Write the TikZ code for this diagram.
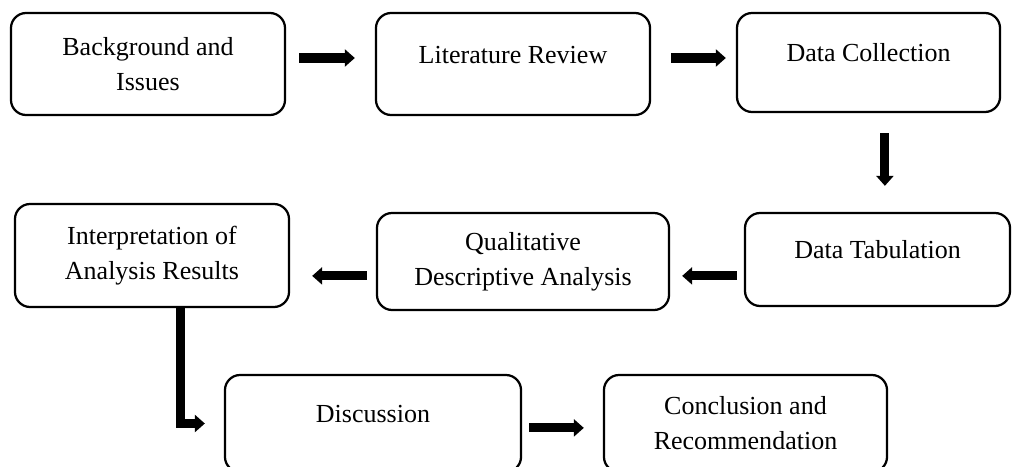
\documentclass[tikz,border=0pt]{standalone}
\usepackage{fontspec}
\setmainfont{Liberation Serif}
\usetikzlibrary{arrows.meta, positioning}
\tikzset{
    stage/.style={draw, line width=1.6pt, rounded corners=0.38cm, align=center, inner sep=0pt,
        font=\fontsize{18.5}{24.9}\selectfont},
    oneline/.style={text height=0.45cm, text depth=0.5cm},
    flow/.style={line width=0.225cm, line join=miter, -{Triangle[length=0.25cm, width=0.425cm]}},
}

\begin{document}
\begin{tikzpicture}[x=0.025cm, y=-0.025cm]
    \useasboundingbox (0,0) rectangle (1013,467);
    % first row
    \node[stage, minimum width=6.85cm, minimum height=2.55cm] (bgnd) at (148,64) {Background and\\Issues};
    \node[stage, oneline, minimum width=6.85cm, minimum height=2.55cm] (litrev) at (513,64) {Literature Review};
    \node[stage, oneline, minimum width=6.575cm, minimum height=2.475cm] (collect) at (868.5,62.5) {Data Collection};
    % second row
    \node[stage, oneline, minimum width=6.625cm, minimum height=2.325cm] (tabul) at (877.5,259.5) {Data Tabulation};
    \node[stage, minimum width=7.3cm, minimum height=2.425cm] (qual) at (523,261.5) {Qualitative\\Descriptive Analysis};
    \node[stage, minimum width=6.85cm, minimum height=2.575cm] (interp) at (152,255.5) {Interpretation of\\Analysis Results};
    % third row
    \node[stage, oneline, minimum width=7.4cm, minimum height=2.425cm] (discuss) at (373,423.5) {Discussion};
    \node[stage, minimum width=7.075cm, minimum height=2.425cm] (concl) at (745.5,423.5) {Conclusion and\\Recommendation};

    \draw[flow, shorten <=0.325cm, shorten >=0.5cm] ([yshift=0.15cm]bgnd.east) -- ([yshift=0.15cm]litrev.west);
    \draw[flow, shorten <=0.5cm, shorten >=0.25cm] ([yshift=0.15cm]litrev.east) -- ([yshift=0.15cm]litrev.east -| collect.west);
    \draw[flow, shorten <=0.5cm, shorten >=0.65cm] ([xshift=0.41cm]collect.south) -- ([xshift=0.41cm]collect.south |- tabul.north);
    \draw[flow, shorten <=0.175cm, shorten >=0.3cm] ([yshift=-0.36cm]qual.east -| tabul.west) -- ([yshift=-0.36cm]qual.east);
    \draw[flow, shorten <=0.225cm, shorten >=0.55cm] ([yshift=-0.36cm]qual.west) -- ([yshift=-0.36cm]qual.west -| interp.east);
    \draw[flow, shorten >=0.475cm] ([xshift=0.7cm]interp.south) |- (discuss.west);
    \draw[flow, shorten <=0.175cm, shorten >=0.475cm] ([yshift=-0.11cm]discuss.east) -- ([yshift=-0.11cm]discuss.east -| concl.west);
\end{tikzpicture}
\end{document}
